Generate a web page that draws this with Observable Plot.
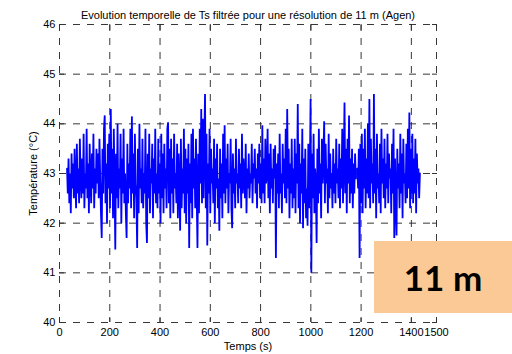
<!DOCTYPE html>
<html>
<head>
<meta charset="utf-8">
<script src="https://cdn.jsdelivr.net/npm/d3@7"></script>
<script src="https://cdn.jsdelivr.net/npm/@observablehq/plot@0.6"></script>
<style>
  html, body { margin: 0; padding: 0; background: #fff; }
  #wrap { position: relative; width: 512px; height: 354px; overflow: hidden; }
  #badge { position: absolute; left: 374px; top: 241px; width: 138px; height: 72px;
    background: #FAC995; display: flex; align-items: center; justify-content: center;
    font-family: Lato, "Open Sans", sans-serif; font-weight: bold; font-size: 35px; color: #000; }
</style>
</head>
<body>
<div id="wrap"><div id="chart"></div><div id="badge"></div></div>
<script>
const title = "Evolution temporelle de Ts filtrée pour une résolution de 11 m (Agen)";
const xLabel = "Temps (s)";
const yLabel = "Température (°C)";
const badgeText = "11 m";
const xDomain = [0, 1500];
const yDomain = [40, 46];
const xTicks = [0, 200, 400, 600, 800, 1000, 1200, 1400, 1500];
const yTicks = [40, 41, 42, 43, 44, 45, 46];
const t0 = 30;   // first sample time (s)
const dt = 3;    // sampling step (s)
const temperature = [
  43.1,42.6,43.3,42.4,43.0,42.2,43.4,42.7,43.2,42.5,43.5,42.8,42.3,43.6,42.6,43.1,42.4,43.7,42.9,42.5,
  43.3,42.6,43.8,42.3,43.0,42.7,43.9,42.5,43.2,42.2,43.6,42.9,42.4,43.4,42.7,43.8,42.3,43.1,42.6,43.5,
  42.8,43.4,42.5,43.7,42.9,42.2,41.7,43.5,42.6,43.9,44.17,42.4,43.2,42.0,43.6,42.7,43.8,42.3,44.3,42.6,
  43.5,42.1,43.9,42.8,41.47,43.4,42.5,44.0,42.3,43.1,42.7,43.8,42.0,43.3,42.6,43.9,42.4,43.0,42.2,41.7,
  43.6,42.4,43.2,42.7,43.9,42.3,44.15,42.6,43.4,42.1,43.8,42.8,42.5,41.5,43.5,42.2,44.0,42.7,43.1,42.4,
  43.7,42.3,43.0,42.6,43.9,42.0,41.6,43.4,42.5,43.8,42.2,43.1,42.8,43.6,42.1,43.3,42.6,43.9,42.4,43.0,
  42.3,43.7,42.6,43.2,42.0,43.8,42.5,43.4,42.2,43.6,42.7,43.1,42.3,43.9,44.03,42.4,43.5,42.1,43.7,42.6,
  43.3,42.2,43.8,42.7,43.0,42.4,43.6,42.1,43.4,42.8,41.85,43.7,42.3,43.1,42.6,43.9,42.2,43.5,42.0,43.3,
  42.6,43.6,41.5,43.2,42.4,43.8,42.1,43.9,42.7,43.3,42.3,43.7,42.5,41.5,43.4,42.2,43.9,42.8,44.3,42.4,
  44.1,42.5,43.6,44.6,42.3,43.8,41.55,43.2,42.6,43.9,42.2,43.5,42.8,43.1,42.4,43.7,42.0,43.3,42.7,43.6,
  42.3,42.9,41.85,43.5,42.5,43.2,42.1,43.8,42.6,43.97,42.4,43.3,42.7,43.6,42.2,43.0,42.8,43.7,42.3,41.9,
  43.4,42.6,43.1,42.3,43.7,42.8,43.0,42.4,43.5,42.7,43.2,42.3,43.8,42.6,43.3,42.9,42.5,43.6,42.2,43.1,
  42.7,43.4,42.5,43.0,42.8,43.6,42.4,43.2,42.9,43.5,42.6,43.1,42.3,43.4,42.8,43.6,42.5,43.2,42.4,43.97,
  42.6,43.3,42.4,43.7,42.8,43.0,43.9,42.5,43.4,42.2,43.6,42.7,43.1,42.4,43.5,42.9,43.57,41.3,43.2,42.6,
  43.4,42.3,43.8,42.6,43.0,42.2,43.6,42.8,43.3,42.5,43.9,42.4,44.3,42.7,43.5,42.1,43.2,42.6,43.7,42.3,
  43.1,42.5,43.7,42.2,43.4,42.8,44.4,42.3,43.6,42.0,43.2,42.6,43.9,41.9,43.3,42.4,43.5,42.1,42.7,41.95,
  43.6,42.3,43.0,44.5,41.0,43.4,42.5,43.8,42.2,43.1,42.7,41.6,43.5,42.4,43.9,42.6,43.2,42.1,43.7,42.8,
  43.3,44.05,42.4,43.6,42.8,43.1,42.2,43.8,42.5,43.4,42.7,43.0,42.3,43.5,42.6,43.2,42.4,43.7,42.8,43.1,
  42.5,43.6,42.3,43.3,42.7,43.9,42.4,43.2,44.43,42.6,43.5,42.2,43.7,42.8,44.17,42.4,43.3,42.6,43.5,42.3,
  43.2,42.6,43.4,42.9,null,43.1,42.7,43.5,41.3,43.6,42.4,43.8,42.2,43.5,42.7,43.9,42.3,43.3,42.6,44.0,
  42.5,44.5,42.3,43.7,42.8,43.2,42.4,44.6,42.6,43.5,42.1,43.8,42.7,43.0,42.4,43.6,42.2,43.9,42.8,43.3,
  42.5,43.7,42.3,43.2,42.7,43.8,42.4,43.4,42.9,43.1,42.2,43.6,42.6,43.9,41.7,43.3,42.4,41.75,43.5,42.7,
  43.2,42.3,43.8,42.6,43.4,42.1,43.7,42.8,43.0,42.4,43.6,42.5,43.9,42.7,44.23,42.3,43.5,42.6,43.8,42.4,
  43.3,42.6,43.7,42.2,43.4,42.8,43.1,42.5,43.0
];
const series = temperature.map((v, i) => ({t: t0 + dt * i, v}));

const chart = Plot.plot({
  width: 512,
  height: 354,
  marginLeft: 59,
  marginRight: 76,
  marginTop: 24,
  marginBottom: 32,
  style: {fontFamily: "'Liberation Sans', Arial, sans-serif", fontSize: "11px", color: "#000", background: "#fff"},
  x: {domain: xDomain},
  y: {domain: yDomain},
  marks: [
    Plot.gridX(xTicks, {stroke: "#222", strokeOpacity: 0.9, strokeDasharray: "7,7"}),
    Plot.gridY(yTicks, {stroke: "#222", strokeOpacity: 0.9, strokeDasharray: "7,7"}),
    Plot.line(series, {x: "t", y: "v", stroke: "#0000ff", strokeWidth: 1.8, strokeLinejoin: "miter"}),
    Plot.axisX({ticks: xTicks, anchor: "bottom", tickSize: -5, tickPadding: 11, line: true, stroke: "#333",
      label: xLabel, labelAnchor: "center", labelOffset: 27, labelArrow: false, tickFormat: d => String(d)}),
    Plot.axisX({ticks: xTicks, anchor: "top", tickSize: -5, tickFormat: () => "", label: null, stroke: "#333"}),
    Plot.axisY({ticks: yTicks, anchor: "left", tickSize: -5, tickPadding: 9, line: true, stroke: "#333",
      label: yLabel, labelAnchor: "center", labelOffset: 30, labelArrow: false, tickFormat: d => String(d)}),
    Plot.axisY({ticks: yTicks, anchor: "right", tickSize: -5, tickFormat: () => "", label: null, stroke: "#333"}),
    Plot.text([title], {frameAnchor: "top", dy: -13, fontSize: 11, fill: "#000"})
  ]
});
document.getElementById("chart").appendChild(chart);
document.getElementById("badge").textContent = badgeText;
</script>
</body>
</html>
